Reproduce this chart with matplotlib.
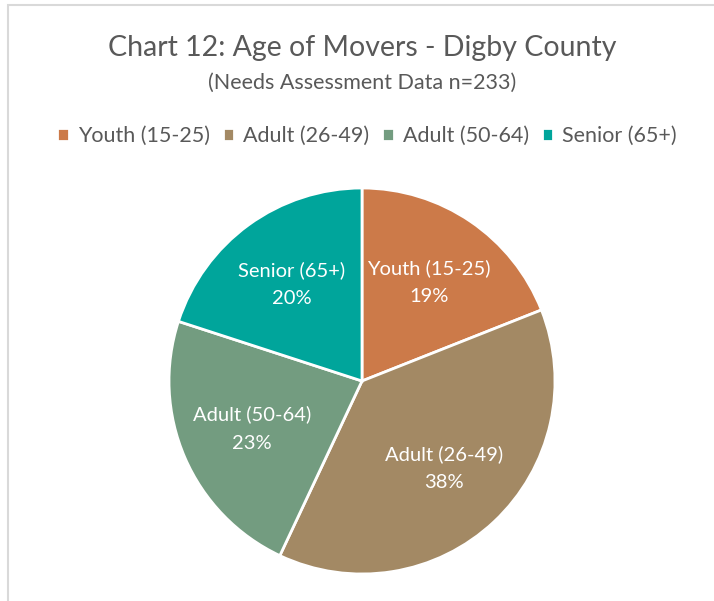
import matplotlib.pyplot as plt
from matplotlib.patches import Rectangle

plt.rcParams['font.family'] = ['Lato', 'DejaVu Sans']

# data
labels = ["Youth (15-25)", "Adult (26-49)", "Adult (50-64)", "Senior (65+)"]
pcts = [19, 38, 23, 20]
colors = ["#CC7A49", "#A38964", "#739C80", "#00A59B"]

fig = plt.figure(figsize=(7.14, 6.01), dpi=100)
fig.patch.set_facecolor("white")

# chart frame (cropped at right/bottom)
fig.add_artist(Rectangle((8 / 714, -0.1), 1.2, 1 - 5 / 601 + 0.1, transform=fig.transFigure,
                         fill=False, edgecolor="#d9d9d9", linewidth=1.5))

ax = fig.add_axes([(362 - 193) / 714, (601 - 381 - 193) / 601, 386 / 714, 386 / 601])
wedges, texts = ax.pie(pcts, colors=colors, startangle=90, counterclock=False,
                       labels=[f"{l}\n{p}%" for l, p in zip(labels, pcts)],
                       labeldistance=0.62,
                       wedgeprops=dict(edgecolor="white", linewidth=2),
                       textprops=dict(color="white", fontsize=14.5, ha="center",
                                      va="center", linespacing=1.8))
for t in texts:
    t.set_horizontalalignment("center")
ax.set_xlim(-1, 1)
ax.set_ylim(-1, 1)
ax.set_aspect("equal")

fig.text(362 / 714, 1 - 48 / 601, "Chart 12: Age of Movers - Digby County",
         ha="center", va="center", fontsize=20.5, color="#595959")
fig.text(362 / 714, 1 - 83 / 601, "(Needs Assessment Data n=233)",
         ha="center", va="center", fontsize=15.5, color="#595959")

leg = fig.legend(wedges, labels, loc="center", bbox_to_anchor=(367 / 714, 1 - 136 / 601),
                 ncol=4, frameon=False, fontsize=15.5, handlelength=0.55, handleheight=0.55,
                 handletextpad=0.4, columnspacing=0.6)
for t in leg.get_texts():
    t.set_color("#595959")

fig.savefig("out.png", dpi=100)
